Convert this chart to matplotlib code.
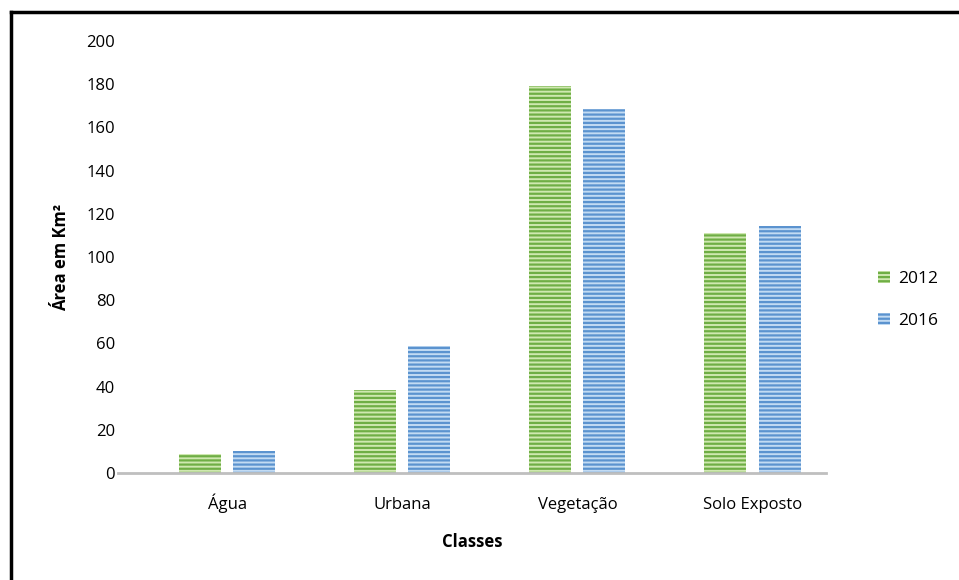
import numpy as np
import matplotlib
matplotlib.use("Agg")
import matplotlib.pyplot as plt
from matplotlib.patches import Patch
from matplotlib.lines import Line2D

categories = ["Água", "Urbana", "Vegetação", "Solo Exposto"]
area_2012 = [9, 38.5, 179, 111]
area_2016 = [10, 59, 168.5, 114.5]
years = ["2012", "2016"]
yticks = [0, 20, 40, 60, 80, 100, 120, 140, 160, 180, 200]

plt.rcParams['font.family'] = ['Open Sans', 'DejaVu Sans']
plt.rcParams['hatch.linewidth'] = 1.6

green_face, green_line = "#cfe8b0", "#6fae45"
blue_face, blue_line = "#c2dbf3", "#5b93cf"

fig = plt.figure(figsize=(9.59, 5.80), dpi=100)
ax = fig.add_axes([118 / 959, 1 - 473 / 580, 708 / 959, (473 - 41) / 580])

x = np.arange(len(categories))
w = 0.24
off = 0.155
ax.bar(x - off, area_2012, w, color=green_face, edgecolor=green_line,
       hatch="----", linewidth=0)
ax.bar(x + off, area_2016, w, color=blue_face, edgecolor=blue_line,
       hatch="----", linewidth=0)

ax.set_xlim(-0.623, 3.42)
ax.set_ylim(0, 200)
ax.set_yticks(yticks)
ax.set_xticks(x)
ax.set_xticklabels(categories, fontsize=12, va="baseline")
ax.tick_params(axis='y', labelsize=12, length=0, pad=2)
ax.tick_params(axis='x', length=0, pad=26)
for s in ["top", "right", "left"]:
    ax.spines[s].set_visible(False)
ax.spines["bottom"].set_color("#bfbfbf")
ax.spines["bottom"].set_linewidth(2)

ax.set_xlabel("Classes", fontsize=12, fontweight="bold", labelpad=14)
ax.set_ylabel("Área em Km²", fontsize=12, fontweight="bold", labelpad=12)

handles = [Patch(facecolor=green_face, edgecolor=green_line, hatch="----", linewidth=0),
           Patch(facecolor=blue_face, edgecolor=blue_line, hatch="----", linewidth=0)]
fig.legend(handles, years, loc="center left", bbox_to_anchor=(862 / 959, 1 - 300 / 580),
           frameon=False, fontsize=12.5, handlelength=0.7, handleheight=0.7,
           handletextpad=0.5, labelspacing=1.5)

# outer chart border (top and left edges visible)
fig.add_artist(Line2D([11 / 959, 1], [1 - 12 / 580, 1 - 12 / 580], color="black", lw=2.5))
fig.add_artist(Line2D([11 / 959, 11 / 959], [0, 1 - 12 / 580], color="black", lw=2.5))

fig.savefig("out.png", dpi=100, facecolor="white")
